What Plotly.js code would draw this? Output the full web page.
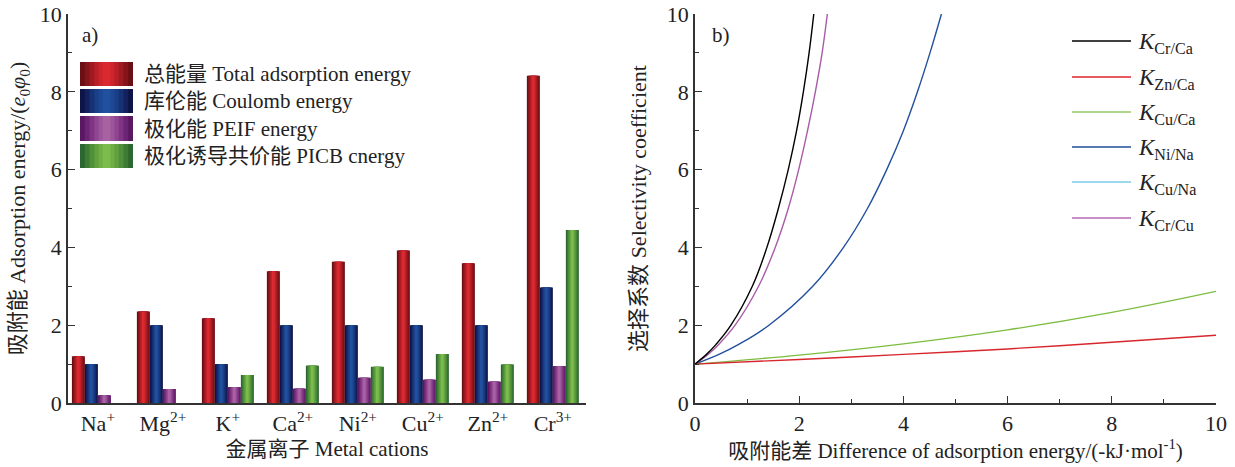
<!DOCTYPE html>
<html>
<head>
<meta charset="utf-8">
<script src="https://cdn.plot.ly/plotly-3.0.1.min.js"></script>
<style>html,body{margin:0;padding:0;background:#fff;}#chart{width:1235px;height:467px;}</style>
</head>
<body>
<div id="chart"></div>
<script>
// ---------- Data: panel a) ----------
const cations = ['Na<sup>+</sup>','Mg<sup>2+</sup>','K<sup>+</sup>','Ca<sup>2+</sup>','Ni<sup>2+</sup>','Cu<sup>2+</sup>','Zn<sup>2+</sup>','Cr<sup>3+</sup>'];
const totalEnergy   = [1.20, 2.35, 2.18, 3.39, 3.63, 3.92, 3.59, 8.41];
const coulombEnergy = [1.00, 2.00, 1.00, 2.00, 2.00, 2.00, 2.00, 2.97];
const peifEnergy    = [0.20, 0.36, 0.41, 0.37, 0.65, 0.60, 0.55, 0.95];
const picbEnergy    = [null, null, 0.72, 0.96, 0.93, 1.26, 0.99, 4.45];
const barNamesCn = ['总能量', '库伦能', '极化能', '极化诱导共价能'];
const barNamesEn = ['Total adsorption energy', 'Coulomb energy', 'PEIF energy', 'PICB cnergy'];

// ---------- Data: panel b) ----------
const crCaX = [0, 0.22, 0.40, 0.69, 1.10, 1.38, 1.60, 1.79, 1.95, 2.08, 2.19, 2.28];
const crCaY = [1, 1.25, 1.5, 2, 3, 4, 5, 6, 7, 8, 9, 10];
const znCaX = [0, 2, 4, 6, 8, 10];
const znCaY = [1, 1.12, 1.25, 1.39, 1.56, 1.74];
const cuCaX = [0, 2, 4, 6, 8, 10];
const cuCaY = [1, 1.23, 1.52, 1.88, 2.33, 2.87];
const niNaX = [0, 0.46, 0.83, 1.42, 2.26, 2.85, 3.31, 3.68, 4.00, 4.27, 4.51, 4.73];
const niNaY = [1, 1.25, 1.5, 2, 3, 4, 5, 6, 7, 8, 9, 10];
const cuNaX = [null];
const cuNaY = [null];
const crCuX = [0, 0.25, 0.45, 0.77, 1.22, 1.54, 1.79, 1.99, 2.16, 2.31, 2.44, 2.54];
const crCuY = [1, 1.25, 1.5, 2, 3, 4, 5, 6, 7, 8, 9, 10];
const curveNames = ['<i>K</i><sub>Cr/Ca</sub>','<i>K</i><sub>Zn/Ca</sub>','<i>K</i><sub>Cu/Ca</sub>','<i>K</i><sub>Ni/Na</sub>','<i>K</i><sub>Cu/Na</sub>','<i>K</i><sub>Cr/Cu</sub>'];

// ---------- Styles ----------
const FONT = 'Liberation Serif, Noto Sans CJK SC, serif';
const LAT = s => '<span style="font-family:Liberation Serif,serif">' + s + '</span>';
const mixed = (cn, en) => cn + ' ' + LAT(en);
const barShades = [
  ['#6a0f14','#85141b','#a01a22','#b81f27','#cc252c','#d92a30'],
  ['#0f1446','#13225e','#173274','#1a3f86','#1d4893','#21509e'],
  ['#5a1862','#6c2574','#7f3584','#8f4590','#9c559a','#a862a2'],
  ['#2c6631','#3e7c36','#518f3b','#61a040','#6eae45','#7cbc4c']
];
const curveColors = ['#000000','#d8262d','#7cbc40','#22509e','#6ec6e6','#a85ca8'];
const legendLineColors = ['#000000','#e0242b','#94c864','#1f4e9a','#7ccbe8','#b868b4'];

// plot box in pixels
const L = 68, R = 1216, T = 14, B = 403;
const px = v => (v - L) / (R - L);
const py = v => (B - v) / (B - T);

const traces = [];
const barSeries = [totalEnergy, coulombEnergy, peifEnergy, picbEnergy];
const layerFrac = [1.0, 0.82, 0.64, 0.46, 0.30, 0.15];
barSeries.forEach((vals, i) => {
  const center = -0.4 + 0.2 * i + 0.1;
  layerFrac.forEach((f, k) => {
    const w = 0.2 * f;
    traces.push({
      type: 'bar', x: cations, y: vals, name: barNamesCn[i] + ' ' + barNamesEn[i],
      xaxis: 'x', yaxis: 'y',
      width: w, offset: center - w / 2,
      marker: {color: barShades[i][k], line: {width: 0}},
      showlegend: false, hoverinfo: k === 0 ? 'x+y+name' : 'skip'
    });
  });
});

const curveX = [crCaX, znCaX, cuCaX, niNaX, cuNaX, crCuX];
const curveY = [crCaY, znCaY, cuCaY, niNaY, cuNaY, crCuY];
[4, 3, 2, 1, 5, 0].forEach(i => {
  traces.push({
    type: 'scatter', mode: 'lines', x: curveX[i], y: curveY[i], name: curveNames[i],
    xaxis: 'x2', yaxis: 'y2',
    line: {color: curveColors[i], width: 1.4, shape: 'spline', smoothing: 1.1},
    showlegend: false
  });
});

// ---------- manual legends ----------
const shapes = [];
const annotations = [];
const swRows = [[62, 86], [89, 113], [116, 141], [144, 168]];
swRows.forEach((r, i) => {
  layerFrac.forEach((f, k) => {
    const cx = 106.5, hw = 26.5 * f;
    shapes.push({type: 'rect', xref: 'paper', yref: 'paper',
      x0: px(cx - hw), x1: px(cx + hw), y0: py(r[1]), y1: py(r[0]),
      fillcolor: barShades[i][k], line: {width: 0}, layer: 'above'});
  });
  annotations.push({xref: 'paper', yref: 'paper', x: px(142), y: py((r[0] + r[1]) / 2),
    xanchor: 'left', yanchor: 'middle', showarrow: false, text: mixed(barNamesCn[i], barNamesEn[i]),
    font: {family: FONT, size: 21, color: '#222'}});
});

const lgY = [41, 77, 112, 147, 182, 218];
lgY.forEach((y, i) => {
  shapes.push({type: 'line', xref: 'paper', yref: 'paper',
    x0: px(1072), x1: px(1131), y0: py(y), y1: py(y),
    line: {color: legendLineColors[i], width: 1.5}});
  annotations.push({xref: 'paper', yref: 'paper', x: px(1136), y: py(y + 2),
    xanchor: 'left', yanchor: 'middle', showarrow: false, text: curveNames[i],
    font: {family: FONT, size: 23, color: '#222'}});
});

annotations.push({xref: 'paper', yref: 'paper', x: px(80), y: py(35), xanchor: 'left', yanchor: 'middle',
  showarrow: false, text: 'a)', font: {family: FONT, size: 21, color: '#222'}});
annotations.push({xref: 'paper', yref: 'paper', x: px(710), y: py(35), xanchor: 'left', yanchor: 'middle',
  showarrow: false, text: 'b)', font: {family: FONT, size: 21, color: '#222'}});

const axCommon = {
  showgrid: false, zeroline: false, showline: true, linecolor: '#333', linewidth: 1.5,
  tickfont: {family: FONT, size: 22, color: '#222'}, color: '#333'
};

const layout = {
  width: 1235, height: 467,
  margin: {l: L, r: 1235 - R, t: T, b: 467 - B},
  paper_bgcolor: '#fff', plot_bgcolor: '#fff',
  font: {family: FONT, color: '#222'},
  barmode: 'overlay',
  showlegend: false,
  xaxis: Object.assign({}, axCommon, {
    domain: [0, px(586)], type: 'category', range: [-0.46, 7.51],
    ticks: '', anchor: 'y',
    title: {text: mixed('金属离子', 'Metal cations'), font: {family: FONT, size: 21, color: '#222'}, standoff: 6}
  }),
  yaxis: Object.assign({}, axCommon, {
    range: [0, 10], dtick: 2, ticks: 'inside', ticklen: 7, tickwidth: 1.3, tickcolor: '#333',
    minor: {dtick: 1, ticks: 'inside', ticklen: 4, tickwidth: 1.3, tickcolor: '#333'},
    anchor: 'x',
    title: {text: mixed('吸附能', 'Adsorption energy/(<i>e</i><sub>0</sub><i>φ</i><sub>0</sub>)'), font: {family: FONT, size: 22, color: '#222'}, standoff: 8}
  }),
  xaxis2: Object.assign({}, axCommon, {
    domain: [px(695), 1], range: [0, 10], dtick: 2, anchor: 'y2',
    ticks: 'inside', ticklen: 7, tickwidth: 1.3, tickcolor: '#333',
    minor: {dtick: 1, ticks: 'inside', ticklen: 4, tickwidth: 1.3, tickcolor: '#333'},
    title: {text: mixed('吸附能差', 'Difference of adsorption energy/(-kJ·mol<sup>-1</sup>)'), font: {family: FONT, size: 21, color: '#222'}, standoff: 4}
  }),
  yaxis2: Object.assign({}, axCommon, {
    range: [0, 10], dtick: 2, anchor: 'x2',
    ticks: 'inside', ticklen: 7, tickwidth: 1.3, tickcolor: '#333',
    minor: {dtick: 1, ticks: 'inside', ticklen: 4, tickwidth: 1.3, tickcolor: '#333'},
    title: {text: mixed('选择系数', 'Selectivity coefficient'), font: {family: FONT, size: 22, color: '#222'}, standoff: 14}
  }),
  shapes: shapes,
  annotations: annotations
};

Plotly.newPlot('chart', traces, layout, {displayModeBar: false, responsive: false});
</script>
</body>
</html>
